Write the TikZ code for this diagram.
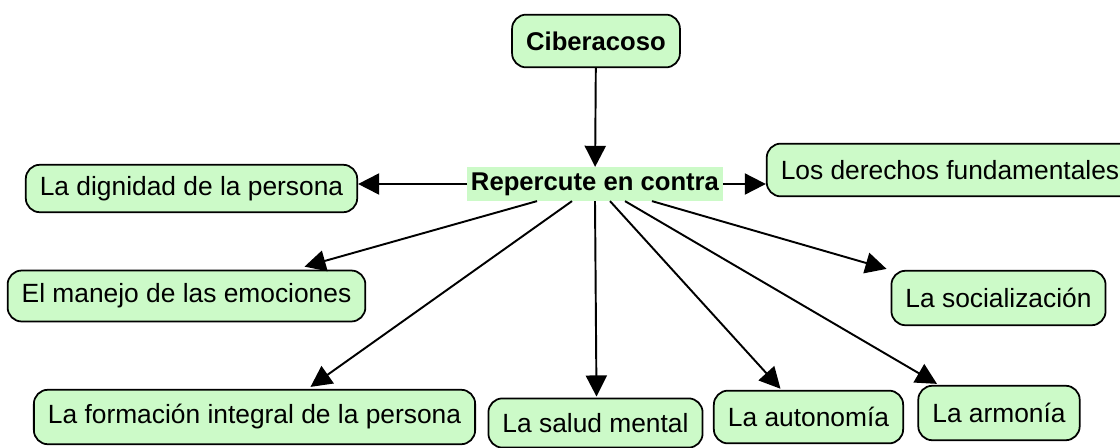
\documentclass[tikz,border=0pt]{standalone}
\usepackage{fontspec}
\setmainfont{Liberation Sans}
\usetikzlibrary{arrows.meta,calc}
\definecolor{mapgreen}{RGB}{204,250,200}
\begin{document}
\begin{tikzpicture}[
  x = 0.02cm, y = -0.02cm,
  concept/.style = {
    shape = rectangle,
    rounded corners = 8pt,
    draw = black,
    fill = mapgreen,
    line width = 1pt,
    inner xsep = 8pt,
    minimum height = 27pt,
    font = \fontsize{15}{18}\selectfont
  },
  linkword/.style = {
    fill = mapgreen,
    inner xsep = 2pt,
    inner ysep = 3pt,
    font = \fontsize{14.6}{18}\selectfont\bfseries
  },
  conn/.style = {
    line width = 1.1pt,
    -{Triangle[length=12pt, width=12pt]}
  }
]
  \useasboundingbox (0, 0) rectangle (1120, 447);

  \node[concept, font = \fontsize{14.6}{18}\selectfont\bfseries, minimum height = 30pt] (cib) at (596, 41) {Ciberacoso};
  \node[linkword] (rep) at (595, 184) {Repercute en contra};

  \node[concept] (dig) at (191.5, 188.5) {La dignidad de la persona};
  \node[concept, minimum height = 30pt] (der) at (950, 170) {Los derechos fundamentales};
  \node[concept, minimum height = 29pt] (man) at (186.5, 296) {El manejo de las emociones};
  \node[concept, minimum height = 31pt] (soc) at (998.5, 298) {La socialización};
  \node[concept, minimum height = 31pt] (for) at (254.5, 417) {La formación integral de la persona};
  \node[concept, minimum height = 28pt] (sal) at (595.5, 423) {La salud mental};
  \node[concept, minimum height = 30pt] (aut) at (808.5, 417) {La autonomía};
  \node[concept, minimum height = 31pt] (arm) at (999, 413) {La armonía};

  \draw[conn] (cib) -- (rep);
  \draw[conn] (rep.west) -- (rep.west -| dig.east);
  \draw[conn] (rep.east) -- (rep.east -| der.west);

  \draw[conn] ($(rep.south) + (-58, 0)$) -- ($(man.north) + (118, -3)$);
  \draw[conn] ($(rep.south) + (-23, 0)$) -- ($(for.north) + (56, -2)$);
  \draw[conn] (rep.south) -- ($(sal.north) + (1, -1)$);
  \draw[conn] ($(rep.south) + (15, 0)$) -- ($(aut.north) + (-28, -1)$);
  \draw[conn] ($(rep.south) + (30, 0)$) -- ($(arm.north) + (-62, -1)$);
  \draw[conn] ($(rep.south) + (57, 0)$) -- ($(soc.north west) + (-4, -1)$);
\end{tikzpicture}
\end{document}
